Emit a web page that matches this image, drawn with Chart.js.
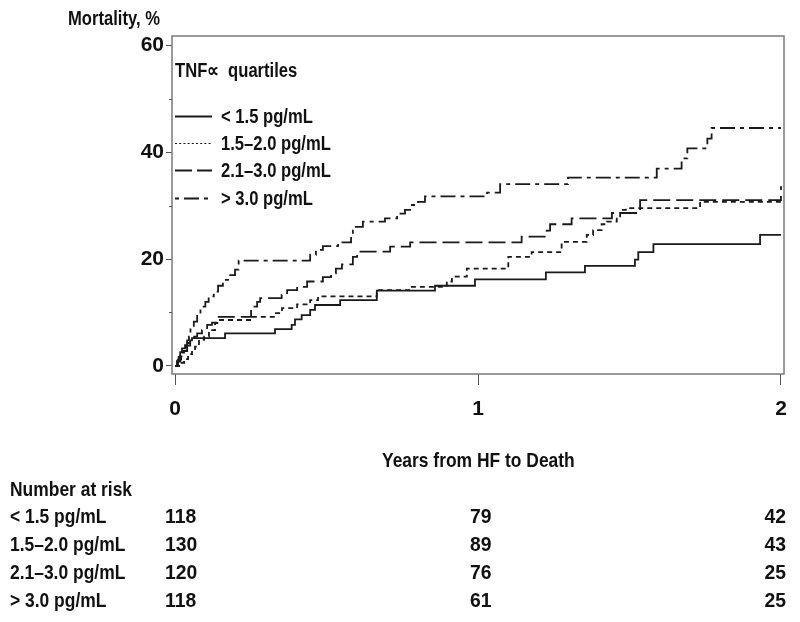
<!DOCTYPE html>
<html><head><meta charset="utf-8">
<script src="https://cdn.jsdelivr.net/npm/chart.js@4.4.0/dist/chart.umd.min.js"></script>
<style>
html,body{margin:0;padding:0;background:#fff;}
#wrap{position:relative;width:800px;height:622px;overflow:hidden;background:#fff;}
canvas{position:absolute;left:0;top:0;}
.t{position:absolute;font-family:'Liberation Sans',Arial,sans-serif;font-weight:bold;font-size:21px;color:#111;white-space:nowrap;line-height:24px;height:24px;transform:scaleX(0.83);transform-origin:0 50%;}
.n{transform:scaleX(0.92);}
.r{text-align:right;transform-origin:100% 50%;}
</style></head><body>
<div id="wrap">
<canvas id="c" width="800" height="622"></canvas>
<div class="t" style="left:68px;top:6px;font-size:20px;">Mortality, %</div>
<div class="t" style="left:382px;top:448px;">Years from HF to Death</div>
<div id="risk"></div>
</div>
<script>
const FONT = "'Liberation Sans', Arial, sans-serif";
const NARROW = 0.83;

const legendTitle = 'TNF\u221D  quartiles';
const seriesLabels = ['< 1.5 pg/mL', '1.5\u20132.0 pg/mL', '2.1\u20133.0 pg/mL', '> 3.0 pg/mL'];
const riskLabels = ['< 1.5 pg/mL', '1.5\u20132.0 pg/mL', '2.1\u20133.0 pg/mL', '> 3.0 pg/mL'];
const xTicks = [0, 1, 2];
const yTicks = [0, 20, 40, 60];
const yMinorTicks = [10, 30, 50];

// Series 1: < 1.5 pg/mL (years, cumulative mortality %)
const s1Times  = [0, 0.007, 0.012, 0.017, 0.023, 0.033, 0.040, 0.050, 0.056, 0.165, 0.330, 0.385, 0.396, 0.418, 0.446, 0.462, 0.545, 0.666, 0.858, 0.990, 1.224, 1.353, 1.518, 1.529, 1.579, 1.931, 2.0];
const s1Values = [0, 1.0, 1.7, 2.6, 3.3, 3.9, 4.3, 4.8, 5.2, 6.1, 6.9, 7.7, 8.7, 9.5, 10.5, 11.4, 12.3, 14.1, 15.0, 16.2, 17.5, 18.7, 19.9, 21.3, 22.8, 24.5, 24.5];

// Series 2: 1.5-2.0 pg/mL
const s2Times  = [0, 0.017, 0.030, 0.043, 0.056, 0.066, 0.079, 0.096, 0.112, 0.132, 0.145, 0.254, 0.330, 0.353, 0.403, 0.446, 0.472, 0.666, 0.776, 0.897, 0.914, 0.963, 1.100, 1.177, 1.276, 1.359, 1.380, 1.408, 1.425, 1.458, 1.469, 1.488, 1.733, 2.0];
const s2Values = [0, 0.6, 1.3, 2.2, 2.9, 3.6, 4.9, 5.5, 6.7, 8.0, 8.6, 9.2, 9.9, 10.8, 11.5, 12.3, 13.0, 14.2, 14.8, 15.8, 16.7, 18.2, 20.4, 21.3, 23.2, 24.5, 25.4, 26.5, 27.0, 28.0, 29.2, 29.5, 30.7, 30.7];

// Series 3: 2.1-3.0 pg/mL
const s3Times  = [0, 0.007, 0.017, 0.026, 0.040, 0.050, 0.063, 0.073, 0.089, 0.106, 0.122, 0.139, 0.251, 0.271, 0.281, 0.352, 0.370, 0.403, 0.436, 0.488, 0.515, 0.531, 0.551, 0.587, 0.601, 0.710, 0.776, 1.144, 1.227, 1.238, 1.309, 1.442, 1.535, 2.0];
const s3Values = [0, 0.8, 1.8, 2.8, 3.8, 4.8, 5.5, 6.1, 6.7, 7.7, 8.1, 9.2, 11.1, 12.0, 12.7, 13.3, 14.2, 14.8, 15.8, 16.6, 17.3, 18.2, 19.0, 20.4, 21.4, 22.3, 23.1, 24.2, 25.3, 26.5, 27.6, 28.6, 31.0, 33.6];

// Series 4: > 3.0 pg/mL
const s4Times  = [0, 0.010, 0.020, 0.030, 0.040, 0.046, 0.051, 0.062, 0.073, 0.084, 0.100, 0.111, 0.128, 0.142, 0.158, 0.182, 0.198, 0.210, 0.446, 0.465, 0.488, 0.538, 0.581, 0.587, 0.620, 0.693, 0.733, 0.759, 0.776, 0.802, 0.825, 1.030, 1.073, 1.297, 1.590, 1.672, 1.691, 1.757, 1.771, 2.0];
const s4Values = [0, 1.2, 2.5, 3.5, 4.8, 5.5, 7.3, 8.3, 9.8, 11.1, 12.0, 13.0, 13.9, 15.0, 16.1, 17.0, 18.0, 19.7, 20.8, 21.7, 22.4, 23.1, 24.3, 26.0, 27.0, 27.6, 28.5, 29.2, 30.1, 30.7, 31.7, 32.4, 34.0, 35.2, 36.9, 38.8, 40.7, 42.5, 44.5, 44.5];

// Number at risk at 0, 1, 2 years
const riskTimes = [0, 1, 2];
const risk1 = [118, 79, 42];
const risk2 = [130, 89, 43];
const risk3 = [120, 76, 25];
const risk4 = [118, 61, 25];

const seriesTimes = [s1Times, s2Times, s3Times, s4Times];
const seriesValues = [s1Values, s2Values, s3Values, s4Values];
const dashes = [[], [5, 4], [17, 6], [15, 5, 4, 5]];
const legendDashes = [[], [2, 2.2], [17, 5], [15, 5, 4, 5]];
const legendDashOffsets = [0, 0, 0, 20];
const LINE = '#1a1a1a';

const datasets = seriesLabels.map((lab, i) => ({
  label: lab,
  data: seriesTimes[i].map((t, k) => ({x: t, y: seriesValues[i][k]})),
  stepped: 'before',
  borderColor: LINE,
  borderWidth: 1.8,
  borderDash: dashes[i],
  borderCapStyle: 'butt',
  pointRadius: 0,
  fill: false
}));

function narrowText(ctx, text, x, y) {
  ctx.save();
  ctx.translate(x, y);
  ctx.scale(NARROW, 1);
  ctx.fillText(text, 0, 0);
  ctx.restore();
}

const kmDecor = {
  id: 'kmDecor',
  afterDraw(chart) {
    const ctx = chart.ctx, a = chart.chartArea, ys = chart.scales.y;
    ctx.save();
    ctx.strokeStyle = '#7a7a7a';
    ctx.lineWidth = 1.5;
    ctx.strokeRect(a.left, a.top, a.right - a.left, a.bottom - a.top);
    ctx.strokeStyle = '#555';
    ctx.lineWidth = 1;
    yMinorTicks.forEach(v => {
      const y = Math.round(ys.getPixelForValue(v)) + 0.5;
      ctx.beginPath(); ctx.moveTo(a.left - 3, y); ctx.lineTo(a.left, y); ctx.stroke();
    });
    // legend
    ctx.fillStyle = '#111';
    ctx.textBaseline = 'middle';
    ctx.textAlign = 'left';
    ctx.font = 'bold 20px ' + FONT;
    narrowText(ctx, legendTitle, a.left + 3, 71);
    const rows = [116, 143, 170, 198];
    seriesLabels.forEach((lab, i) => {
      const y = rows[i] + 0.5;
      ctx.strokeStyle = LINE;
      ctx.lineWidth = i === 1 ? 1.2 : 1.8;
      ctx.setLineDash(legendDashes[i]);
      ctx.lineDashOffset = legendDashOffsets[i];
      ctx.beginPath(); ctx.moveTo(a.left + 3, y); ctx.lineTo(a.left + 40, y); ctx.stroke();
      ctx.setLineDash([]);
      ctx.lineDashOffset = 0;
      narrowText(ctx, lab, a.left + 49, rows[i] + 1);
    });
    ctx.restore();
  }
};

const chart = new Chart(document.getElementById('c'), {
  type: 'line',
  data: {datasets},
  options: {
    responsive: false,
    animation: false,
    devicePixelRatio: 1,
    layout: {padding: {top: 36, right: 16, left: 0, bottom: 0}},
    plugins: {legend: {display: false}, tooltip: {enabled: false}},
    scales: {
      x: {
        type: 'linear', min: -0.01, max: 2.01,
        afterBuildTicks: s => { s.ticks = xTicks.map(v => ({value: v})); },
        afterFit: s => { s.height = 248; },
        border: {display: false},
        grid: {drawOnChartArea: false, drawTicks: true, tickLength: 11, tickColor: '#555', tickWidth: 1},
        ticks: {autoSkip: false, maxRotation: 0, padding: 12, color: '#111', font: {family: FONT, size: 21, weight: 'bold'}}
      },
      y: {
        type: 'linear', min: -1.5, max: 61.7,
        afterBuildTicks: s => { s.ticks = yTicks.map(v => ({value: v})); },
        afterFit: s => { s.width = 172; },
        border: {display: false},
        grid: {drawOnChartArea: false, drawTicks: true, tickLength: 6, tickColor: '#555', tickWidth: 1},
        ticks: {padding: 2, color: '#111', font: {family: FONT, size: 21, weight: 'bold'}}
      }
    }
  },
  plugins: [kmDecor]
});

// Number-at-risk table
const riskEl = document.getElementById('risk');
const rowY = [504, 532, 560, 588];
let html = '<div class="t" style="left:10px;top:477px;">Number at risk</div>';
const riskRows = [risk1, risk2, risk3, risk4];
const xs = chart.scales.x;
const p0 = xs.getPixelForValue(riskTimes[0]);
const p1 = xs.getPixelForValue(riskTimes[1]);
const p2 = xs.getPixelForValue(riskTimes[2]);
riskRows.forEach((r, i) => {
  html += `<div class="t" style="left:10px;top:${rowY[i]}px;">${riskLabels[i].replace('<','&lt;').replace('>','&gt;')}</div>`;
  html += `<div class="t n" style="left:${p0 - 10}px;top:${rowY[i]}px;">${r[0]}</div>`;
  html += `<div class="t n" style="left:${p1 - 8}px;top:${rowY[i]}px;">${r[1]}</div>`;
  html += `<div class="t n r" style="left:${p2 - 100 + 5}px;width:100px;top:${rowY[i]}px;">${r[2]}</div>`;
});
riskEl.innerHTML = html;
</script>
</body></html>
